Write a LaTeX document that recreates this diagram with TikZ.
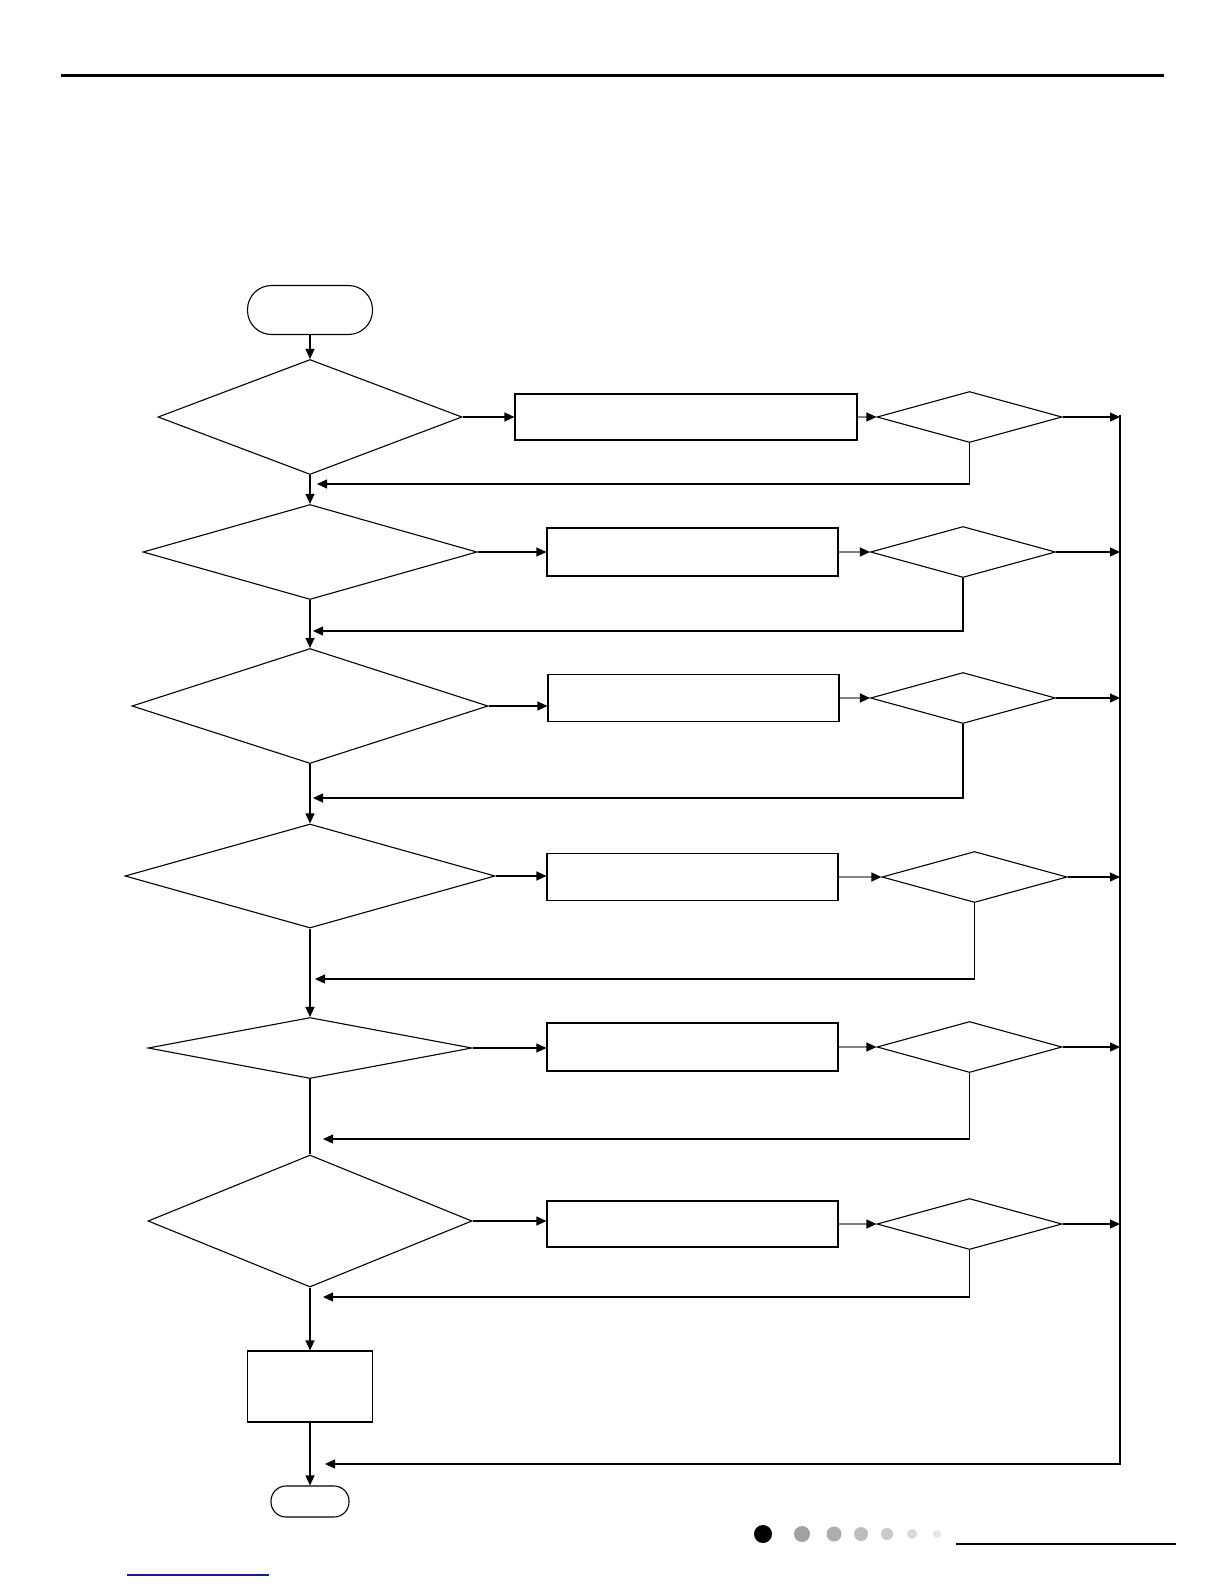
\documentclass[tikz,border=0pt]{standalone}
\usepackage{tikz}
\usetikzlibrary{shapes.geometric,arrows.meta}
\definecolor{ink}{RGB}{0,0,0}
\definecolor{linkgray}{RGB}{130,130,130}
\definecolor{footblue}{RGB}{20,30,150}
\tikzset{
  decision/.style={diamond,draw=ink,line width=1.1pt,inner sep=0pt},
  stepbox/.style={rectangle,draw=ink,line width=1.1pt,inner sep=0pt},
  terminal/.style={rectangle,draw=ink,line width=1.1pt,inner sep=0pt},
  link/.style={draw=ink,line width=1.1pt,-{Triangle[length=10pt,width=9pt,color=ink]}},
  plain/.style={draw=ink,line width=1.1pt}
}

\begin{document}
\begin{tikzpicture}[x=1pt,y=-1pt]
  \useasboundingbox (0,0) rectangle (1224,1584);
  % header rule
  \draw[ink,line width=3pt] (61,76) -- (1164,76);
  % start / end
  \node[terminal,minimum width=125pt,minimum height=49pt,rounded corners=24pt]
    (start) at (310,310) {};
  \node[stepbox,minimum width=125pt,minimum height=71pt] (fin) at (310,1386.5) {};
  \node[terminal,minimum width=78pt,minimum height=31pt,rounded corners=15pt]
    (stop) at (310,1501.5) {};
  % right-hand bus
  \coordinate (bustop) at (1120,415);
  \coordinate (buscorner) at (1120,1464);
  \coordinate (endret) at (325,1464);
  % six check rows
  \foreach \r/\dy/\dw/\dh/\bx/\bw/\bh/\by/\sx/\ry/\tx in {
      1/417/304/115/686/342/46/417/969.5/484/317,
      2/552/334/95/692.5/291/48/552/963/631/313,
      3/706/356/115/693.5/291/47/698/963/798/313,
      4/876/370/104/692.5/291/47/877/974.5/979/315,
      5/1048/324/61/692.5/291/48/1047/969.5/1139/323,
      6/1221/324/132/692.5/291/46/1224/969.5/1297/323}{
    \node[decision,minimum width=\dw pt,minimum height=\dh pt] (d\r) at (310,\dy) {};
    \node[stepbox,minimum width=\bw pt,minimum height=\bh pt] (b\r) at (\bx,\by) {};
    \node[decision,minimum width=185pt,minimum height=51pt] (s\r) at (\sx,\by) {};
    \coordinate (ret\r) at (\tx,\ry);
    \draw[link] (d\r.east) -- (d\r.east -| b\r.west);
    \draw[link,draw=linkgray] (b\r.east) -- (s\r.west);
    \draw[link] (s\r.east) -- (s\r.east -| bustop);
    \draw[link] (s\r.south) |- (ret\r);
  }
  % main line
  \draw[link] (start.south) -- (d1.north);
  \draw[link] (d1.south) -- (d2.north);
  \draw[link] (d2.south) -- (d3.north);
  \draw[link] (d3.south) -- (d4.north);
  \draw[link] (d4.south) -- (d5.north);
  \draw[plain] (d5.south) -- (d6.north);
  \draw[link] (d6.south) -- (fin.north);
  \draw[link] (fin.south) -- (stop.north);
  \draw[link] (bustop) -- (buscorner) -- (endret);
  % footer
  \fill[ink] (763,1534) circle (9);
  \foreach \px/\rad/\shade in {802/8/37,834/7.5/32,861/7/26,887/6/21,912/5/15,937/4/10}{
    \fill[black!\shade!white] (\px,1534) circle (\rad);
  }
  \draw[ink,line width=2pt] (956,1544) -- (1176,1544);
  \draw[footblue,line width=1.2pt] (127,1575) -- (269,1575);
\end{tikzpicture}
\end{document}
